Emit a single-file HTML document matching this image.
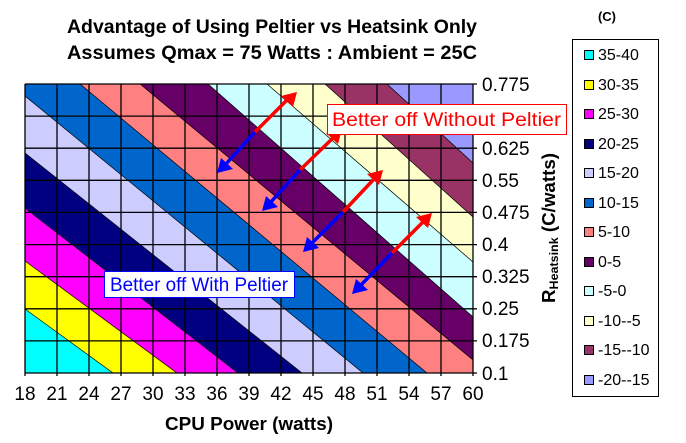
<!DOCTYPE html>
<html><head><style>
html,body{margin:0;padding:0;background:#fff;}
svg{display:block;font-family:"Liberation Sans",Arial,sans-serif;}
</style></head><body>
<svg width="686" height="443" viewBox="0 0 686 443" xmlns="http://www.w3.org/2000/svg">
<defs><clipPath id="pa"><rect x="25" y="84" width="448" height="289"/></clipPath></defs>
<text x="272" y="33" font-size="19" font-weight="bold" text-anchor="middle" textLength="410" lengthAdjust="spacingAndGlyphs">Advantage of Using Peltier vs Heatsink Only</text>
<text x="272" y="59" font-size="19" font-weight="bold" text-anchor="middle" textLength="410" lengthAdjust="spacingAndGlyphs">Assumes Qmax = 75 Watts : Ambient = 25C</text>
<g clip-path="url(#pa)" stroke="#000" stroke-width="0.7">
<rect x="25" y="84" width="448" height="289" fill="#9999ff" stroke="none"/>
<polygon fill="#993366" points="387,84 473,163 473,373 25,373 25,84"/>
<polygon fill="#ffffcc" points="325,84 473,217 473,373 25,373 25,84"/>
<polygon fill="#ccffff" points="267,84 473,262 473,373 25,373 25,84"/>
<polygon fill="#660066" points="208,84 473,317 473,373 25,373 25,84"/>
<polygon fill="#ff8080" points="140,84 473,360 473,373 25,373 25,84"/>
<polygon fill="#0066cc" points="80,84 427,373 25,373 25,84"/>
<polygon fill="#ccccff" points="25,96 363,373 25,373"/>
<polygon fill="#000080" points="25,153 302,373 25,373"/>
<polygon fill="#ff00ff" points="25,208 238,373 25,373"/>
<polygon fill="#ffff00" points="25,261 177,373 25,373"/>
<polygon fill="#00ffff" points="25,309 113,373 25,373"/>
</g>
<g stroke="#000" stroke-width="1.3">
<path d="M25 84V376M57 84V376M89 84V376M121 84V376M153 84V376M185 84V376M217 84V376M249 84V376M281 84V376M313 84V376M345 84V376M377 84V376M409 84V376M441 84V376M473 84V376"/>
<path d="M25 84H477M25 116.1H477M25 148.2H477M25 180.3H477M25 212.4H477M25 244.6H477M25 276.7H477M25 308.8H477M25 340.9H477M25 373H477"/>
</g>
<g font-size="19" text-anchor="middle">
<text x="25" y="400">18</text><text x="57" y="400">21</text><text x="89" y="400">24</text><text x="121" y="400">27</text><text x="153" y="400">30</text><text x="185" y="400">33</text><text x="217" y="400">36</text><text x="249" y="400">39</text><text x="281" y="400">42</text><text x="313" y="400">45</text><text x="345" y="400">48</text><text x="377" y="400">51</text><text x="409" y="400">54</text><text x="441" y="400">57</text><text x="473" y="400">60</text>
</g>
<text x="249" y="430" font-size="18" font-weight="bold" text-anchor="middle" textLength="168" lengthAdjust="spacingAndGlyphs">CPU Power (watts)</text>
<g font-size="19">
<text x="482" y="91">0.775</text><text x="482" y="123">0.7</text><text x="482" y="155">0.625</text><text x="482" y="187">0.55</text><text x="482" y="219">0.475</text><text x="482" y="251">0.4</text><text x="482" y="283">0.325</text><text x="482" y="315">0.25</text><text x="482" y="347">0.175</text><text x="482" y="380">0.1</text>
</g>
<text transform="translate(555,228) rotate(-90)" font-size="18" font-weight="bold" text-anchor="middle" textLength="150" lengthAdjust="spacingAndGlyphs">R<tspan font-size="12" dy="3">Heatsink</tspan><tspan dy="-3"> (C/watts)</tspan></text>
<g stroke-width="3.5">
<line x1="255" y1="132" x2="288" y2="99" stroke="#ff0000"/><line x1="255" y1="132" x2="225" y2="165" stroke="#0000ff"/>
<line x1="300" y1="170" x2="334" y2="137" stroke="#ff0000"/><line x1="300" y1="170" x2="270" y2="203" stroke="#0000ff"/>
<line x1="343" y1="212" x2="375" y2="178" stroke="#ff0000"/><line x1="343" y1="212" x2="311" y2="244" stroke="#0000ff"/>
<line x1="392" y1="253" x2="424" y2="221" stroke="#ff0000"/><line x1="392" y1="253" x2="360" y2="286" stroke="#0000ff"/>
</g>
<g fill="#ff0000">
<polygon points="297,92 293,107 281,96"/><polygon points="342,129 338,144 326,133"/><polygon points="383,170 379,185 367,174"/><polygon points="432,213 428,228 416,217"/>
</g>
<g fill="#0000ff">
<polygon points="217,173 221,158 233,169"/><polygon points="262,211 266,196 278,207"/><polygon points="303,252 307,237 319,248"/><polygon points="352,294 356,279 368,290"/>
</g>
<rect x="327.5" y="104.5" width="239" height="30" fill="#fff" stroke="#ff0000" stroke-width="1"/>
<text x="332" y="126" font-size="19" fill="#ff0000" textLength="229" lengthAdjust="spacingAndGlyphs">Better off Without Peltier</text>
<rect x="104.5" y="271.5" width="190" height="26" fill="#fff" stroke="#0000ff" stroke-width="1"/>
<text x="110" y="291" font-size="19" fill="#0000ff" textLength="178" lengthAdjust="spacingAndGlyphs">Better off With Peltier</text>
<text x="607" y="21" font-size="13" font-weight="bold" text-anchor="middle">(C)</text>
<rect x="572.5" y="39.5" width="86" height="357" fill="#fff" stroke="#000" stroke-width="1"/>
<g stroke="#000" stroke-width="1">
<rect x="584.5" y="50.5" width="9" height="9" fill="#00ffff"/>
<rect x="584.5" y="80.5" width="9" height="9" fill="#ffff00"/>
<rect x="584.5" y="109.5" width="9" height="9" fill="#ff00ff"/>
<rect x="584.5" y="139.5" width="9" height="9" fill="#000080"/>
<rect x="584.5" y="168.5" width="9" height="9" fill="#ccccff"/>
<rect x="584.5" y="198.5" width="9" height="9" fill="#0066cc"/>
<rect x="584.5" y="227.5" width="9" height="9" fill="#ff8080"/>
<rect x="584.5" y="257.5" width="9" height="9" fill="#660066"/>
<rect x="584.5" y="286.5" width="9" height="9" fill="#ccffff"/>
<rect x="584.5" y="316.5" width="9" height="9" fill="#ffffcc"/>
<rect x="584.5" y="345.5" width="9" height="9" fill="#993366"/>
<rect x="584.5" y="375.5" width="9" height="9" fill="#9999ff"/>
</g>
<g font-size="16">
<text x="598" y="60">35-40</text><text x="598" y="90">30-35</text><text x="598" y="119">25-30</text><text x="598" y="149">20-25</text><text x="598" y="178">15-20</text><text x="598" y="208">10-15</text><text x="598" y="237">5-10</text><text x="598" y="267">0-5</text><text x="598" y="296">-5-0</text><text x="598" y="326">-10--5</text><text x="598" y="355">-15--10</text><text x="598" y="385">-20--15</text>
</g>
</svg>
</body></html>
